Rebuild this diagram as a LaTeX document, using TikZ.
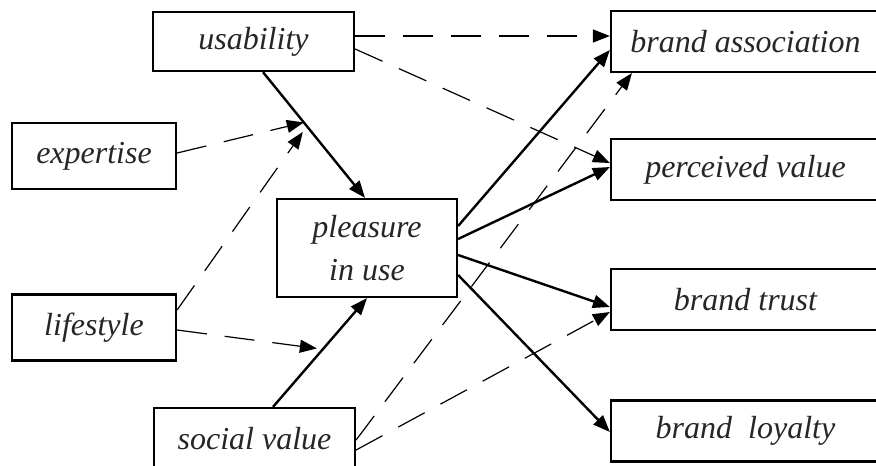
\documentclass[tikz,border=0pt]{standalone}
\usepackage{fontspec}
\setmainfont{Liberation Serif}
\usetikzlibrary{arrows.meta,calc}

\begin{document}
\begin{tikzpicture}[x=0.5pt, y=-0.5pt,
  box/.style={draw, line width=1.1pt, inner sep=0pt, align=center,
    text=black!85, font=\itshape\fontsize{16}{21.5}\selectfont},
  inbox/.style={box, minimum width=100.5pt, minimum height=29.5pt},
  leftbox/.style={box, minimum width=82pt, minimum height=33pt},
  outbox/.style={box, minimum width=134.5pt, minimum height=30.5pt},
  solidarr/.style={line width=1.2pt, -{Triangle[length=8.5pt,width=6.5pt]}},
  dasharr/.style={line width=0.6pt, dash pattern=on 15pt off 9pt,
    -{Triangle[length=8.5pt,width=6.5pt]}}]
\useasboundingbox (0,0) rectangle (876,465);

% antecedents
\node[inbox] (usab) at (253.5,41.5) {usability};
\node[leftbox] (expe) at (94,156) {expertise};
\node[leftbox] (life) at (94,327.5) {lifestyle};
\node[box, minimum width=90pt, minimum height=49pt] (plea) at (367,248)
  {pleasure\\in use};
\node[box, minimum width=100.5pt, minimum height=31pt] (soci)
  at (254.5,439) {social value};

% outcomes
\node[outbox] (bass) at (745.5,41.5) {brand association};
\node[outbox] (pval) at (745.5,169.5) {perceived value};
\node[outbox] (btru) at (745.5,299.5) {brand trust};
\node[outbox] (bloy) at (745.5,431) {brand~~loyalty};

% direct paths
\draw[solidarr] ($(usab.south)+(9.5,0)$) --
  coordinate[pos=0.4] (umid1) coordinate[pos=0.43] (umid2)
  ($(plea.north)+(-2,0)$);
\draw[solidarr] ($(soci.north)+(18.5,0)$) -- coordinate[pos=0.53] (smid)
  (plea.south);
\draw[solidarr] ($(plea.east)+(0,-22)$) -- ($(bass.west)+(0,8.5)$);
\draw[solidarr] ($(plea.east)+(0,-9)$) -- ($(pval.west)+(0,-2.5)$);
\draw[solidarr] ($(plea.east)+(0,7)$) -- ($(btru.west)+(0,7.5)$);
\draw[solidarr] ($(plea.east)+(0,27)$) -- ($(bloy.west)+(0,1)$);

% dashed paths
\draw[dasharr] ($(usab.east)+(0,-5.5)$) -- ($(bass.west)+(0,-5.5)$);
\draw[dasharr] ($(usab.east)+(0,7.5)$) -- ($(pval.west)+(0,-6.5)$);
\draw[dasharr] ($(expe.east)+(0,-3)$) -- (umid1);
\draw[dasharr, shorten >=3.5pt] ($(life.east)+(0,-17.5)$) -- (umid2);
\draw[dasharr, shorten >=3pt] ($(life.east)+(0,2.5)$) -- (smid);
\draw[dasharr] ($(soci.east)+(0,1)$) -- ($(bass.south west)+(22,0)$);
\draw[dasharr] ($(soci.east)+(0,11)$) -- ($(btru.west)+(0,12.5)$);
\end{tikzpicture}
\end{document}
